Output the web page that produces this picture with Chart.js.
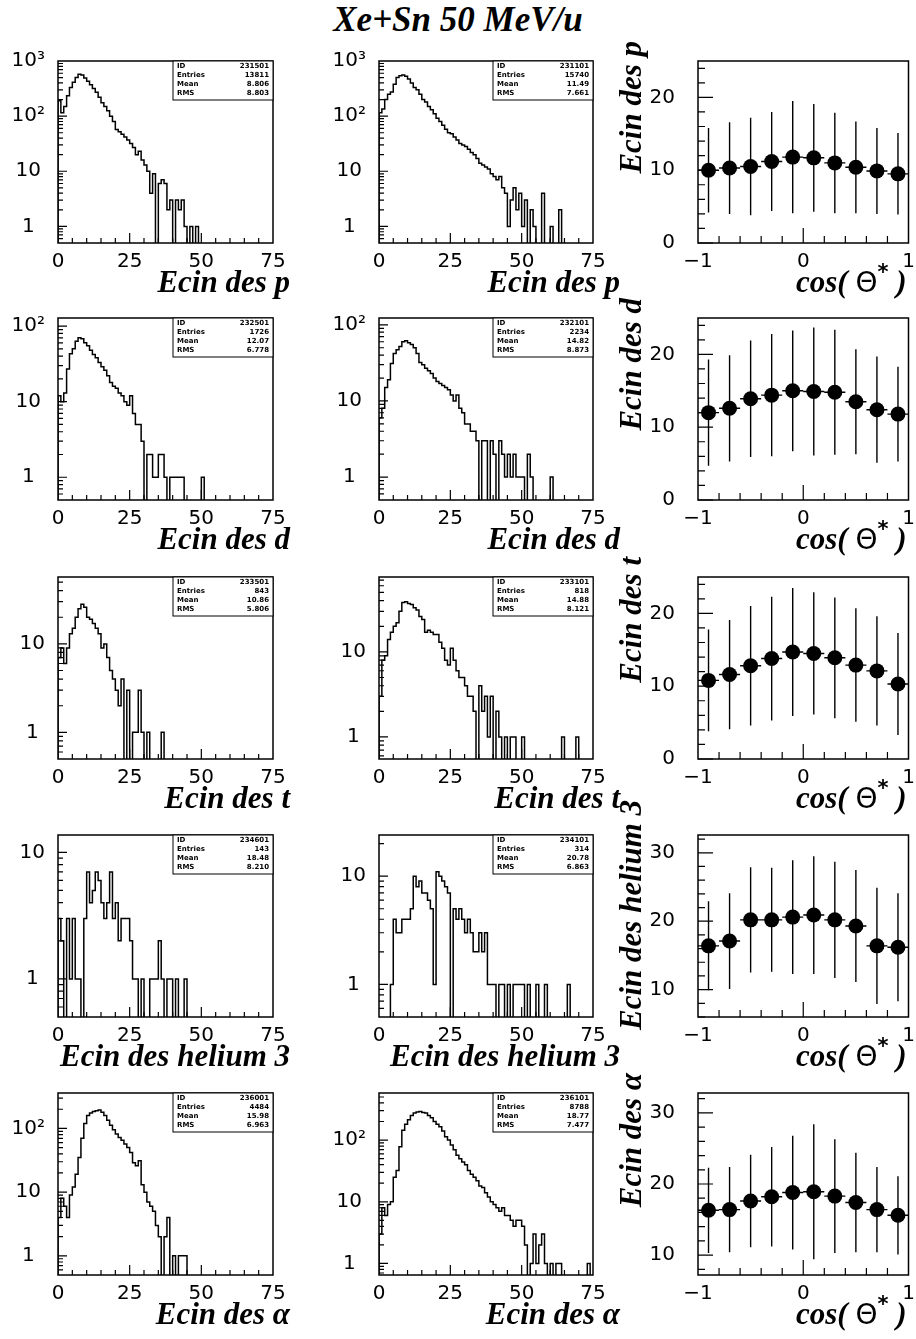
<!DOCTYPE html>
<html>
<head>
<meta charset="utf-8">
<script src="https://cdn.jsdelivr.net/npm/chart.js@4.4.1/dist/chart.umd.min.js"></script>
<style>
  html, body { margin: 0; padding: 0; background: #fff; }
  body { width: 916px; height: 1339px; position: relative; overflow: hidden; }
  #title {
    position: absolute; left: 0; top: 0; width: 916px; text-align: center;
    font: italic bold 35px "Liberation Serif", "Times New Roman", serif;
    line-height: 40px;
  }
  canvas { position: absolute; }
</style>
</head>
<body>
<div id="title">Xe+Sn 50 MeV/u</div>
<script>
// ---- data ----
// histograms: counts per 1 MeV bin, starting at 0 MeV
const binWidth = 1;

// protons
const protonsA = [190,115,150,235,330,410,500,575,560,490,430,370,316,270,220,174,150,125,100,80,
  57,52,47,42,37,32,27,20,23,16,13,10,4,9,0,6,7,6,2,3,0,3,2,3,1,0,1,0,1];
const protonsB = [115,135,200,250,275,380,500,540,560,530,470,400,330,300,250,200,180,150,130,110,
  92,80,68,58,50,48,42,37,32,30,28,25,22,20,17,14,13,12,11,9,8,7,8,5,4,1,3,5,2,4,1,3,0,2,1,0,0,4,0,0,1,0,0,2];
// deutons
const deutonsA = [12,10,13,27,43,50,63,70,68,60,55,48,42,38,33,29,26,22,18,16,
  15,13,12,10,9,12,7,5,5,3,0,2,2,1,1,2,2,1,0,1,1,1,1,1,0,0,0,0,0,0,1];
const deutonsB = [6,8,15,19,31,42,47,52,60,62,58,55,50,42,32,30,27,25,23,20,
  18,17,16,15,14,12,10,12,8,7,5,5,4,4,3,0,3,3,0,3,2,0,3,2,1,2,1,2,1,1,1,0,2,1,0,0,0,0,0,0,1];
// tritons
const tritonsA = [7,9,6,9,13,15,20,25,28,26,20,19,17,15,13,9,10,7,5,4,
  3,2,4,0,3,0,1,1,3,1,0,1,0,0,0,0,1];
const tritonsB = [3,8,9,14,17,20,22,30,38,39,37,36,33,31,26,24,17,18,17,16,
  16,13,11,8,7,11,8,6,5,5,4,3,3,2,0,4,2,3,1,3,0,2,1,0,1,0,1,1,0,0,
  1,0,0,0,0,0,0,0,0,0,0,0,0,0,1,0,0,0,0,1];
// helium 3
const helium3A = [3,2,0,3,1,3,1,1,0,3,7,4,5,7,6,4,3,4,7,3,
  4,2,3,3,3,2,1,1,0,1,0,0,1,1,1,2,1,0,1,1,0,1,0,0,1];
const helium3B = [0,0,0,0,1,4,3,3,4,4,4,5,10,8,9,7,7,6,5,1,
  11,10,9,8,7,0,5,4,5,4,3,4,3,2,2,3,2,3,1,1,1,0,1,1,0,1,0,1,1,1,
  1,0,1,0,0,1,0,0,1,0,0,0,0,0,0,0,1];
// alphas
const alphasA = [4,8,6,4,9,12,19,35,70,120,160,175,185,190,195,180,160,135,112,95,
  82,72,65,57,50,42,29,26,31,13,10,7,6,5,3,2,0,2,4,0,1,0,1,1,1];
const alphasB = [3,8,6,9,10,25,32,78,145,180,213,250,275,285,290,280,275,250,230,200,
  180,165,140,113,100,83,70,57,50,44,40,32,28,25,22,18,17,14,12,10,
  9,8,7,8,6,6,5,4,5,5,4,2,0,1,3,1,2,3,1,0,1,0,1,1,0,0,0,0,0,0,0,0,0,1];

// stat boxes
const statLabels = ['ID', 'Entries', 'Mean', 'RMS'];
const statsProtonsA = ['231501', '13811', '8.806', '8.803'];
const statsProtonsB = ['231101', '15740', '11.49', '7.661'];
const statsDeutonsA = ['232501', '1726', '12.07', '6.778'];
const statsDeutonsB = ['232101', '2234', '14.82', '8.873'];
const statsTritonsA = ['233501', '843', '10.86', '5.806'];
const statsTritonsB = ['233101', '818', '14.88', '8.121'];
const statsHelium3A = ['234601', '143', '18.48', '8.210'];
const statsHelium3B = ['234101', '314', '20.78', '6.863'];
const statsAlphasA = ['236001', '4484', '15.98', '6.963'];
const statsAlphasB = ['236101', '8788', '18.77', '7.477'];

// mean kinetic energy vs cos(theta*)
const cosBins = [-0.9, -0.7, -0.5, -0.3, -0.1, 0.1, 0.3, 0.5, 0.7, 0.9];
const cosHalfWidth = 0.1;
const ecinP = [10.0, 10.3, 10.5, 11.2, 11.8, 11.7, 11.0, 10.4, 9.9, 9.5];
const errP = [5.8, 6.3, 6.7, 6.8, 7.7, 7.4, 6.9, 6.3, 5.9, 5.6];
const ecinD = [12.0, 12.6, 13.9, 14.4, 15.0, 14.9, 14.8, 13.5, 12.4, 11.8];
const errD = [7.3, 7.3, 8.0, 8.4, 8.3, 8.8, 8.6, 7.2, 7.3, 6.5];
const ecinT = [10.8, 11.6, 12.8, 13.8, 14.7, 14.5, 13.9, 12.9, 12.1, 10.3];
const errT = [7.0, 7.5, 8.2, 8.5, 8.8, 8.4, 8.3, 7.8, 7.5, 7.0];
const ecinH = [16.4, 17.1, 20.2, 20.2, 20.6, 20.9, 20.2, 19.3, 16.4, 16.2];
const errH = [6.5, 7.0, 7.7, 7.6, 8.3, 8.6, 8.5, 8.2, 8.5, 7.9];
const ecinA = [16.3, 16.4, 17.6, 18.2, 18.8, 18.9, 18.3, 17.4, 16.4, 15.6];
const errA = [6.0, 6.0, 6.5, 7.0, 8.0, 9.5, 8.0, 7.0, 6.0, 5.5];

// ---- layout ----
const colLeft = [0, 300, 600];
const colWidth = [330, 330, 316];
const axisWidth = [58, 79, 98];
const padRight = [57, 37, 3];
const rowTop = [61, 318, 577, 835, 1093];
const frameH = 182;
const padTop = 50;
const xAxisH = 60;
const xTitleDx = [17, 27, -2];

Chart.defaults.font.family = '"DejaVu Sans", sans-serif';
Chart.defaults.font.size = 20;
Chart.defaults.color = '#000';

const serifBold = 'italic bold 31px "Liberation Serif", "Times New Roman", serif';
const supFont = 'bold 21px "DejaVu Sans", sans-serif';
const thetaFont = '28px "DejaVu Sans", sans-serif';

// title parts: [text, kind] with kind '' (serif), 'sup' (raised), 'up' (upright sans)
function partFont(kind) {
  return kind === 'sup' ? supFont : kind === 'up' ? thetaFont : serifBold;
}
function drawParts(ctx, parts, xEnd, y) {
  let w = 0;
  parts.forEach(([t, k]) => { ctx.font = partFont(k); w += ctx.measureText(t).width; });
  let x = xEnd - w;
  ctx.textAlign = 'left';
  parts.forEach(([t, k]) => {
    ctx.font = partFont(k);
    ctx.fillText(t, x, k === 'sup' ? y - 13 : y);
    x += ctx.measureText(t).width;
  });
}

// frame, inner ticks, stat box and axis titles in PAW style
const pawFrame = {
  id: 'pawFrame',
  afterDraw(chart, args, o) {
    const {ctx, chartArea: a, scales: {x, y}} = chart;
    ctx.save();
    ctx.strokeStyle = '#000';
    ctx.lineWidth = 1.2;
    ctx.beginPath();
    o.xTicks.forEach(([v, len]) => {
      const px = x.getPixelForValue(v);
      ctx.moveTo(px, a.bottom); ctx.lineTo(px, a.bottom - len);
    });
    o.yTicks.forEach(([v, len]) => {
      const py = y.getPixelForValue(v);
      ctx.moveTo(a.left, py); ctx.lineTo(a.left + len, py);
    });
    ctx.stroke();
    ctx.lineWidth = 1.5;
    ctx.strokeRect(a.left, a.top, a.right - a.left, a.bottom - a.top);

    if (o.stats) {
      const w = 100, h = 39, bx = a.right - w, by = a.top;
      ctx.fillStyle = '#fff';
      ctx.fillRect(bx, by, w, h);
      ctx.lineWidth = 1;
      ctx.strokeRect(bx, by, w, h);
      ctx.fillStyle = '#000';
      ctx.font = 'bold 7px "DejaVu Sans", sans-serif';
      ctx.textBaseline = 'middle';
      statLabels.forEach((lab, i) => {
        const ty = by + 5 + i * 9;
        ctx.textAlign = 'left';
        ctx.fillText(lab, bx + 4, ty);
        ctx.textAlign = 'right';
        ctx.fillText(o.stats[i], bx + w - 4, ty);
      });
    }

    ctx.fillStyle = '#000';
    ctx.textBaseline = 'alphabetic';
    if (o.xTitle) drawParts(ctx, o.xTitle, a.right + o.xTitleDx, a.bottom + 49);
    if (o.yTitle) {
      ctx.translate(a.left - 57, a.top - o.yTitleUp);
      ctx.rotate(-Math.PI / 2);
      ctx.font = serifBold;
      ctx.textAlign = 'right';
      ctx.fillText(o.yTitle, 0, 0);
    }
    ctx.restore();
  }
};

function stepData(counts, floor) {
  const pts = [{x: 0, y: floor}];
  counts.forEach((c, i) => pts.push({x: i * binWidth, y: c > 0 ? c : floor}));
  pts.push({x: counts.length * binWidth, y: floor});
  return pts;
}

function errorBars(xs, ys, errs) {
  const pts = [];
  xs.forEach((x, i) => {
    pts.push({x: x, y: ys[i] - errs[i]}, {x: x, y: ys[i] + errs[i]}, {x: x, y: null});
    pts.push({x: x - cosHalfWidth, y: ys[i]}, {x: x + cosHalfWidth, y: ys[i]}, {x: x, y: null});
  });
  return pts;
}

function logTicks(min, max) {
  const out = [];
  for (let e = -1; e <= 3; e++) {
    for (let m = 1; m <= 9; m++) {
      const v = m * Math.pow(10, e);
      if (v > min && v < max) out.push([v, m === 1 ? 9 : 5]);
    }
  }
  return out;
}

function makeCanvas(row, col) {
  const c = document.createElement('canvas');
  c.width = colWidth[col];
  c.height = padTop + frameH + xAxisH;
  c.style.left = colLeft[col] + 'px';
  c.style.top = (rowTop[row] - padTop) + 'px';
  document.body.appendChild(c);
  return c;
}

function baseScales(col) {
  const hidden = {display: false, drawTicks: false};
  return {
    x: {
      type: 'linear', grid: hidden, border: {display: false},
      ticks: {padding: 7, maxRotation: 0, autoSkip: false},
      afterFit: s => { s.height = xAxisH; s.paddingLeft = 0; s.paddingRight = 0; }
    },
    y: {
      grid: hidden, border: {display: false},
      ticks: {autoSkip: false},
      afterFit: s => { s.width = axisWidth[col]; s.paddingTop = 0; s.paddingBottom = 0; }
    }
  };
}

function histogram(p) {
  const scales = baseScales(p.col);
  scales.x.min = 0; scales.x.max = 75;
  scales.x.afterBuildTicks = s => { s.ticks = [0, 25, 50, 75].map(v => ({value: v})); };
  scales.y.type = 'logarithmic';
  scales.y.min = p.yMin; scales.y.max = p.yMax;
  scales.y.ticks.crossAlign = 'center';
  scales.y.ticks.padding = 13;
  scales.y.ticks.callback = v => ({1: '1', 10: '10', 100: '10²', 1000: '10³'})[v];
  scales.y.afterBuildTicks = s => {
    s.ticks = [1, 10, 100, 1000].filter(v => v >= p.yMin && v <= p.yMax).map(v => ({value: v}));
  };
  const xTicks = [];
  for (let v = 5; v < 75; v += 5) xTicks.push([v, v % 25 === 0 ? 10 : 5]);

  new Chart(makeCanvas(p.row, p.col), {
    type: 'line',
    data: {
      datasets: [{
        data: stepData(p.counts, p.yMin / 10),
        stepped: 'before',
        borderColor: '#000',
        borderWidth: 1.5,
        pointRadius: 0,
        fill: false
      }]
    },
    options: {
      responsive: false, animation: false, events: [],
      layout: {padding: {top: padTop, right: padRight[p.col], left: 0, bottom: 0}},
      scales: scales,
      plugins: {
        legend: {display: false}, tooltip: {enabled: false},
        pawFrame: {
          xTicks: xTicks, yTicks: logTicks(p.yMin, p.yMax), stats: p.stats,
          xTitle: [[p.xTitle, '']], xTitleDx: xTitleDx[p.col]
        }
      }
    },
    plugins: [pawFrame]
  });
}

function profile(p) {
  const scales = baseScales(2);
  scales.x.min = -1; scales.x.max = 1;
  scales.x.afterBuildTicks = s => { s.ticks = [-1, 0, 1].map(v => ({value: v})); };
  scales.x.ticks.callback = v => (v < 0 ? '\u2212' + Math.abs(v) : String(v));
  scales.y.type = 'linear';
  scales.y.min = p.yMin; scales.y.max = p.yMax;
  scales.y.ticks.padding = 23;
  scales.y.afterBuildTicks = s => {
    s.ticks = [0, 10, 20, 30].filter(v => v >= p.yMin && v <= p.yMax).map(v => ({value: v}));
  };
  const xTicks = [];
  for (let k = -4; k <= 4; k++) xTicks.push([k * 0.2, k === 0 ? 15 : 7]);
  const yTicks = [];
  for (let v = Math.ceil(p.yMin / 2) * 2; v < p.yMax; v += 2) yTicks.push([v, v % 10 === 0 ? 15 : 7]);

  new Chart(makeCanvas(p.row, 2), {
    type: 'scatter',
    data: {
      datasets: [{
        data: errorBars(cosBins, p.values, p.errors),
        showLine: true, spanGaps: false,
        borderColor: '#000', borderWidth: 1.4, pointRadius: 0
      }, {
        data: cosBins.map((c, i) => ({x: c, y: p.values[i]})),
        pointRadius: 7.5, pointBackgroundColor: '#000', pointBorderColor: '#000', pointBorderWidth: 0
      }]
    },
    options: {
      responsive: false, animation: false, events: [],
      layout: {padding: {top: padTop, right: padRight[2], left: 0, bottom: 0}},
      scales: scales,
      plugins: {
        legend: {display: false}, tooltip: {enabled: false},
        pawFrame: {
          xTicks: xTicks, yTicks: yTicks,
          xTitle: [['cos( ', ''], ['\u0398', 'up'], ['*', 'sup'], [' )', '']], xTitleDx: xTitleDx[2],
          yTitle: p.yTitle, yTitleUp: p.yTitleUp
        }
      }
    },
    plugins: [pawFrame]
  });
}

// ---- panels ----
histogram({row: 0, col: 0, counts: protonsA, yMin: 0.5, yMax: 1000, stats: statsProtonsA, xTitle: 'Ecin des p'});
histogram({row: 0, col: 1, counts: protonsB, yMin: 0.5, yMax: 1000, stats: statsProtonsB, xTitle: 'Ecin des p'});
profile({row: 0, yMin: 0, yMax: 25, values: ecinP, errors: errP, yTitle: 'Ecin des p', yTitleUp: 20});

histogram({row: 1, col: 0, counts: deutonsA, yMin: 0.5, yMax: 128, stats: statsDeutonsA, xTitle: 'Ecin des d'});
histogram({row: 1, col: 1, counts: deutonsB, yMin: 0.5, yMax: 123, stats: statsDeutonsB, xTitle: 'Ecin des d'});
profile({row: 1, yMin: 0, yMax: 25, values: ecinD, errors: errD, yTitle: 'Ecin des d', yTitleUp: 20});

histogram({row: 2, col: 0, counts: tritonsA, yMin: 0.5, yMax: 57, stats: statsTritonsA, xTitle: 'Ecin des t'});
histogram({row: 2, col: 1, counts: tritonsB, yMin: 0.55, yMax: 76, stats: statsTritonsB, xTitle: 'Ecin des t'});
profile({row: 2, yMin: 0, yMax: 25, values: ecinT, errors: errT, yTitle: 'Ecin des t', yTitleUp: 20});

histogram({row: 3, col: 0, counts: helium3A, yMin: 0.5, yMax: 13.7, stats: statsHelium3A, xTitle: 'Ecin des helium 3'});
histogram({row: 3, col: 1, counts: helium3B, yMin: 0.5, yMax: 24, stats: statsHelium3B, xTitle: 'Ecin des helium 3'});
profile({row: 3, yMin: 6, yMax: 32.6, values: ecinH, errors: errH, yTitle: 'Ecin des helium 3', yTitleUp: 35});

histogram({row: 4, col: 0, counts: alphasA, yMin: 0.5, yMax: 360, stats: statsAlphasA, xTitle: 'Ecin des \u03b1'});
histogram({row: 4, col: 1, counts: alphasB, yMin: 0.65, yMax: 580, stats: statsAlphasB, xTitle: 'Ecin des \u03b1'});
profile({row: 4, yMin: 7.2, yMax: 32.8, values: ecinA, errors: errA, yTitle: 'Ecin des \u03b1', yTitleUp: 20});
</script>
</body>
</html>
